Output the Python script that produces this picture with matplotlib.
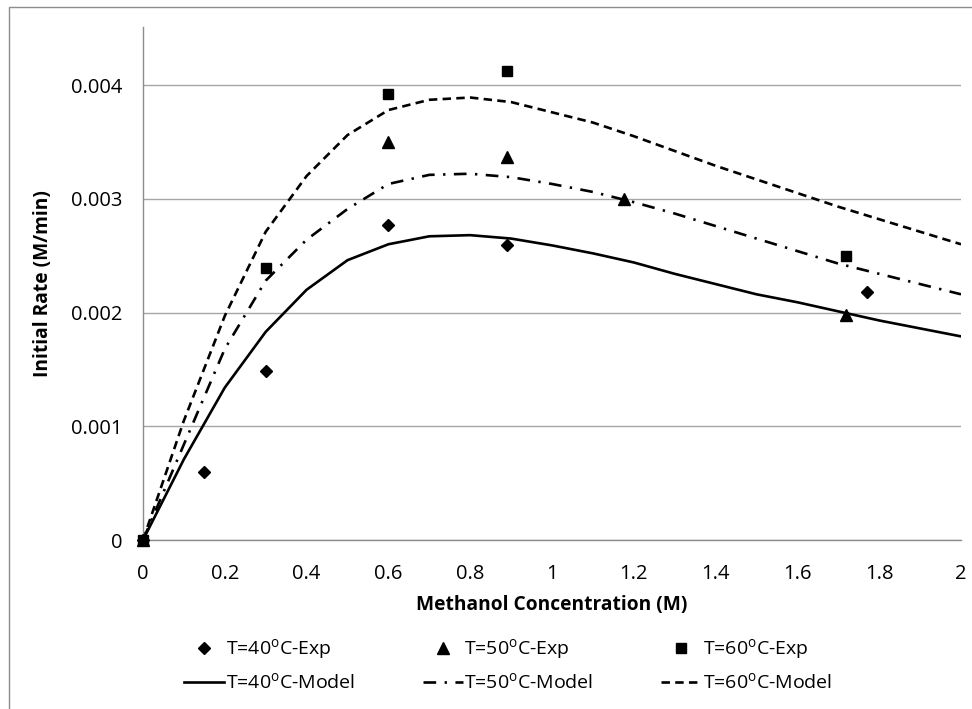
import matplotlib
matplotlib.use("Agg")
import matplotlib.pyplot as plt
from matplotlib.patches import Rectangle

plt.rcParams["font.family"] = ["Open Sans", "DejaVu Sans"]
plt.rcParams["mathtext.fontset"] = "custom"
plt.rcParams["mathtext.rm"] = "Open Sans"

# Experimental initial rates (M/min) vs methanol concentration (M)
exp40_x = [0.0, 0.15, 0.30, 0.60, 0.89, 1.77]
exp40_y = [0.0, 0.00060, 0.00149, 0.00277, 0.00259, 0.00218]
exp50_x = [0.0, 0.60, 0.89, 1.175, 1.72]
exp50_y = [0.0, 0.00350, 0.00337, 0.00300, 0.00198]
exp60_x = [0.0, 0.30, 0.60, 0.89, 1.72]
exp60_y = [0.0, 0.00239, 0.00392, 0.00412, 0.00250]

# Model predictions
model_x = [0.0, 0.1, 0.2, 0.3, 0.4, 0.5, 0.6, 0.7, 0.8, 0.9, 1.0,
           1.1, 1.2, 1.3, 1.4, 1.5, 1.6, 1.7, 1.8, 1.9, 2.0]
model40_y = [0.0, 0.00071, 0.00134, 0.00183, 0.00220, 0.00246, 0.00260,
             0.00267, 0.00268, 0.00265, 0.00259, 0.00252, 0.00244,
             0.00234, 0.00225, 0.00216, 0.00209, 0.00201, 0.00193,
             0.00186, 0.00179]
model50_y = [0.0, 0.00084, 0.00168, 0.00228, 0.00264, 0.00291, 0.00313,
             0.00321, 0.00322, 0.00319, 0.00313, 0.00306, 0.00297,
             0.00287, 0.00276, 0.00265, 0.00254, 0.00243, 0.00234,
             0.00225, 0.00216]
model60_y = [0.0, 0.00105, 0.00197, 0.00271, 0.00320, 0.00356, 0.00378,
             0.00387, 0.00389, 0.00385, 0.00376, 0.00367, 0.00355,
             0.00342, 0.00329, 0.00317, 0.00305, 0.00293, 0.00282,
             0.00271, 0.00260]

x_ticks = [0, 0.2, 0.4, 0.6, 0.8, 1.0, 1.2, 1.4, 1.6, 1.8, 2.0]
x_tick_labels = ["0", "0.2", "0.4", "0.6", "0.8", "1", "1.2", "1.4", "1.6", "1.8", "2"]
y_ticks = [0, 0.001, 0.002, 0.003, 0.004]
y_tick_labels = ["0", "0.001", "0.002", "0.003", "0.004"]

labels = ["T=40$^\\mathrm{o}$C-Exp", "T=40$^\\mathrm{o}$C-Model",
          "T=50$^\\mathrm{o}$C-Exp", "T=50$^\\mathrm{o}$C-Model",
          "T=60$^\\mathrm{o}$C-Exp", "T=60$^\\mathrm{o}$C-Model"]

W, H = 972, 709
fig = plt.figure(figsize=(W / 100, H / 100), dpi=100)
# chart area frame (right and bottom edges run past the canvas)
fig.patches.append(Rectangle((9 / W, -10 / H), 980 / W, (H - 7 + 10) / H,
                             transform=fig.transFigure, fill=False,
                             edgecolor="#8c8c8c", linewidth=1.0))

ax = fig.add_axes([143 / W, (H - 540) / H, (961 - 143) / W, (540 - 27) / H])

lw = 1.9
h40e, = ax.plot(exp40_x, exp40_y, linestyle="none", marker="D", markersize=6.5,
                color="black", clip_on=False, zorder=4)
h50e, = ax.plot(exp50_x, exp50_y, linestyle="none", marker="^", markersize=8,
                color="black", clip_on=False, zorder=4)
h60e, = ax.plot(exp60_x, exp60_y, linestyle="none", marker="s", markersize=6.5,
                color="black", clip_on=False, zorder=4)
h40m, = ax.plot(model_x, model40_y, color="black", linewidth=lw,
                linestyle="-")
h50m, = ax.plot(model_x, model50_y, color="black", linewidth=lw,
                linestyle=(0, (4.8, 3.2, 0.9, 3.2)))
h60m, = ax.plot(model_x, model60_y, color="black", linewidth=lw,
                linestyle=(0, (3.2, 2.0)))

ax.set_xlim(0, 2)
ax.set_ylim(0, 0.00451)
ax.set_xticks(x_ticks)
ax.set_xticklabels(x_tick_labels)
ax.set_yticks(y_ticks)
ax.set_yticklabels(y_tick_labels)
ax.tick_params(axis="both", length=0, labelsize=14.5, colors="black")
ax.tick_params(axis="x", pad=17)
ax.tick_params(axis="y", pad=15)
ax.grid(axis="y", color="#a6a6a6", linewidth=1.0)
ax.set_axisbelow(True)
for side in ("top", "right"):
    ax.spines[side].set_visible(False)
for side in ("left", "bottom"):
    ax.spines[side].set_color("#8c8c8c")
    ax.spines[side].set_linewidth(1.0)

ax.set_xlabel("Methanol Concentration (M)", fontsize=13.8, fontweight="bold",
              labelpad=8)
ax.set_ylabel("Initial Rate (M/min)", fontsize=13.8, fontweight="bold",
              labelpad=13)

fig.legend([h40e, h40m, h50e, h50m, h60e, h60m], labels,
           loc="center", bbox_to_anchor=(508 / W, 1 - 665 / H), ncol=3,
           frameon=False, fontsize=14, handlelength=2.05, handletextpad=0.08,
           columnspacing=3.5, labelspacing=0.55)

fig.savefig("out.png", dpi=100)
